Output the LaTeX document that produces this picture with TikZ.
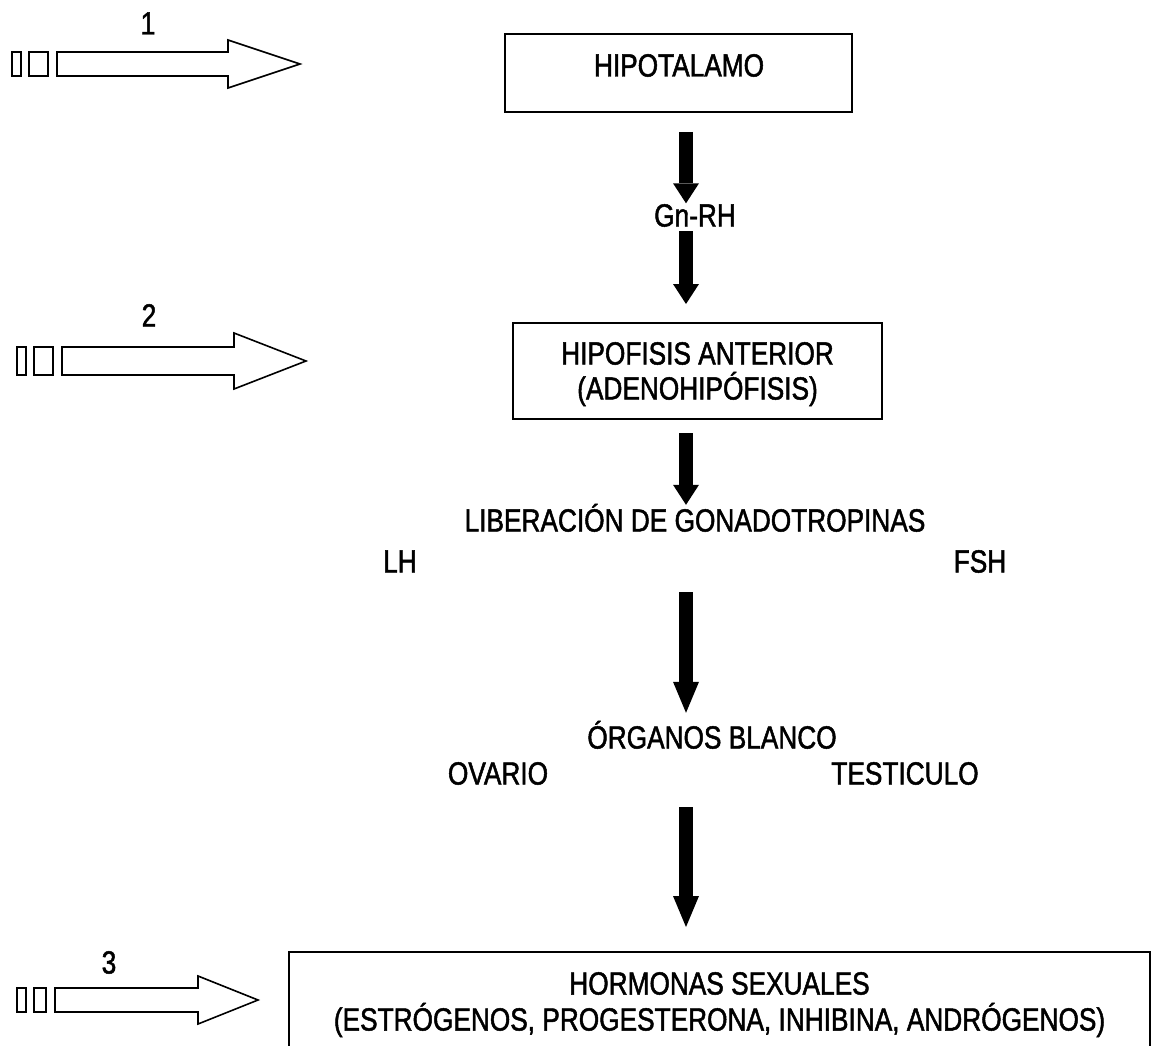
\documentclass[tikz,border=0pt]{standalone}
\usepackage{fontspec}
\setmainfont{Liberation Sans}[FakeStretch=0.82,FakeBold=1.5]
\usetikzlibrary{arrows.meta}

\begin{document}
\begin{tikzpicture}[x=1pt,y=-1pt,
caja/.style={draw,line width=2pt,inner sep=0pt},
texto/.style={inner sep=0pt,text height=23pt,text depth=0pt,font=\fontsize{32}{35}\selectfont},
flecha/.style={line width=14pt,-{Triangle[width=26pt,length=20pt,line width=0pt]}},
flechalarga/.style={line width=14pt,-{Triangle[width=26pt,length=31pt,line width=0pt]}},
hueca/.style={draw,line width=1.6pt,line join=miter}]
\useasboundingbox(0,0)rectangle(1156,1046);
\clip(0,0)rectangle(1156,1046);
\node[caja,minimum width=347pt,minimum height=78pt](hipotalamo)at(678.5,73){};
\node[caja,minimum width=369pt,minimum height=96pt](hipofisis)at(697.5,371){};
\node[caja,minimum width=861pt,minimum height=98pt](hormonas)at(719.5,1001){};
\node[texto](hipotalamoT)at(679,65){HIPOTALAMO};
\node[texto](hipofisisA)at(697.5,353){HIPOFISIS ANTERIOR};
\node[texto](hipofisisB)at(697.5,388){(ADENOHIPÓFISIS)};
\node[texto](gnrh)at(695,215){Gn-RH};
\node[texto](liberacion)at(695,520){LIBERACIÓN DE GONADOTROPINAS};
\node[texto](lh)at(400,561){LH};
\node[texto](fsh)at(980,561){FSH};
\node[texto](organos)at(712,737){ÓRGANOS BLANCO};
\node[texto](ovario)at(498,773){OVARIO};
\node[texto](testiculo)at(905,773){TESTICULO};
\node[texto](hormonasA)at(719.5,983){HORMONAS SEXUALES};
\node[texto](hormonasB)at(719.5,1019){(ESTRÓGENOS, PROGESTERONA, INHIBINA, ANDRÓGENOS)};
\coordinate(eje)at(686,0);
\draw[flecha,shorten <=19pt](eje|-hipotalamo.south)--(eje|-gnrh.north);
\draw[flecha,shorten <=4.5pt,shorten >=18pt](eje|-gnrh.south)--(eje|-hipofisis.north);
\draw[flecha,shorten <=13pt,shorten >=3.5pt](eje|-hipofisis.south)--(eje|-liberacion.north);
\draw[flechalarga,shorten <=60.5pt,shorten >=12.5pt](eje|-liberacion.south)--(eje|-organos.north);
\draw[flechalarga,shorten <=58.5pt,shorten >=24pt](eje|-organos.south)--(eje|-hormonas.north);
\foreach \k/\yy/\xi/\xs/\xb/\xt/\hs/\hh/\lx/\ly in
{1/64/12/57/228/300/12/24/148/23,2/361/17/62/234/306/14/28/149/315,3/1000/17/55/198/258/12/24/109/962}
{\draw[hueca](\xi,\yy-\hs)rectangle(\xi+9,\yy+\hs);
\draw[hueca](\xi+17,\yy-\hs)rectangle(\xs-9,\yy+\hs);
\draw[hueca](\xs,\yy-\hs)--(\xb,\yy-\hs)--(\xb,\yy-\hh)--(\xt,\yy)--(\xb,\yy+\hh)
--(\xb,\yy+\hs)--(\xs,\yy+\hs)--cycle;
\node[texto](num\k)at(\lx,\ly){\k};}
\end{tikzpicture}
\end{document}
